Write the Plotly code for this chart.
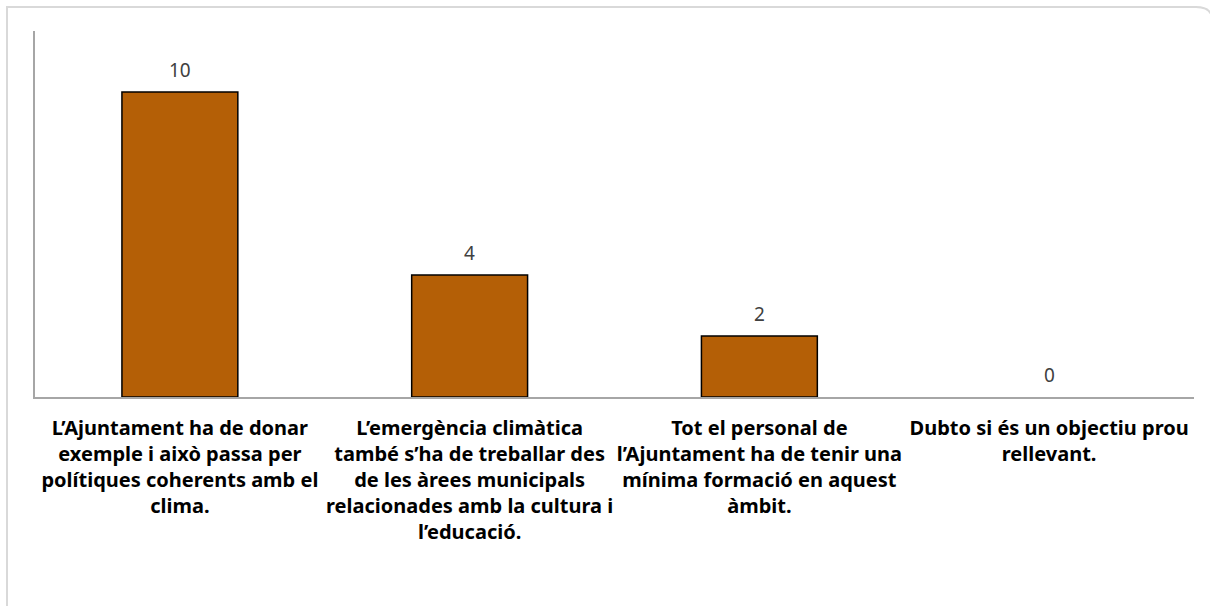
import plotly.graph_objects as go

categories = [
    "L’Ajuntament ha de donar<br>exemple i això passa per<br>polítiques coherents amb el<br>clima.",
    "L’emergència climàtica<br>també s’ha de treballar des<br>de les àrees municipals<br>relacionades amb la cultura i<br>l’educació.",
    "Tot el personal de<br>l’Ajuntament ha de tenir una<br>mínima formació en aquest<br>àmbit.",
    "Dubto si és un objectiu prou<br>rellevant.",
]
values = [10, 4, 2, 0]

W, H = 1210, 606
L, R, T, B = 35, 1194, 31, 397

fig = go.Figure(go.Bar(
    x=categories, y=values,
    marker=dict(color="#B45F06",
                line=dict(color="#000000", width=[1.5 if v > 0 else 0 for v in values])),
    cliponaxis=False,
))

for c, v in zip(categories, values):
    fig.add_annotation(x=c, y=v, text=str(v), showarrow=False, yanchor="bottom",
                       yshift=7, font=dict(family="Noto Sans", size=19, color="#404040"))

def px(x):
    return (x - L) / (R - L)

def py(y):
    return (B - y) / (B - T)

border = (f"M {px(7)},{py(640)} L {px(7)},{py(7)} L {px(1196)},{py(7)} "
          f"Q {px(1210)},{py(7)} {px(1212)},{py(17)} L {px(1214)},{py(640)}")

fig.update_layout(
    width=W, height=H,
    margin=dict(l=L, r=W - R, t=T, b=H - B),
    paper_bgcolor="white", plot_bgcolor="white",
    bargap=0.6, showlegend=False,
    font=dict(family="Noto Sans", color="#000000"),
    xaxis=dict(showline=True, linecolor="#A6A6A6", linewidth=1.5, ticks="",
               tickfont=dict(family="Noto Sans", size=20, color="#000000", weight="bold"),
               ticklabelstandoff=12,
               showgrid=False, zeroline=False),
    yaxis=dict(range=[0, 12], showline=True, linecolor="#A6A6A6", linewidth=1.5,
               showticklabels=False, ticks="", showgrid=False, zeroline=False),
    shapes=[dict(type="path", path=border, xref="paper", yref="paper",
                 line=dict(color="#D9D9D9", width=2), layer="above")],
)

fig.write_html("out.html", config={"displayModeBar": False},
               post_script="document.body.style.margin='0';")
